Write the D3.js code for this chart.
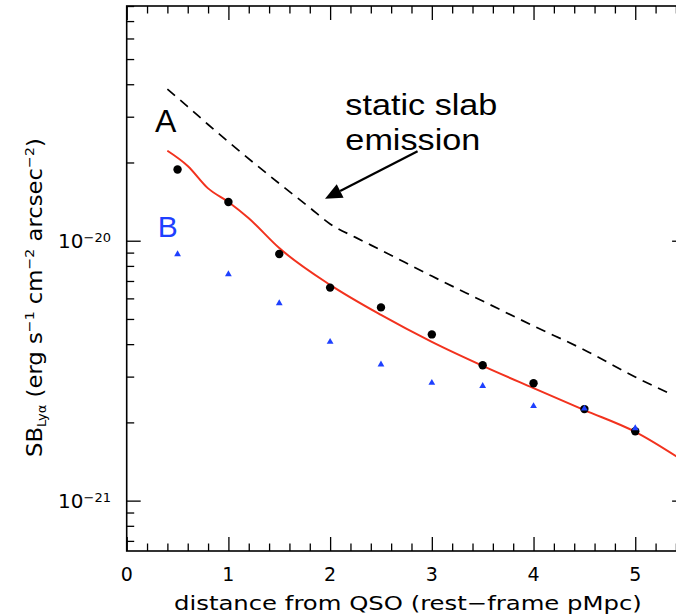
<!DOCTYPE html>
<html><head><meta charset="utf-8">
<script src="https://cdn.jsdelivr.net/npm/d3@7"></script>
<style>body{margin:0;background:#fff}svg{display:block}</style>
</head><body><svg id="c" width="676" height="616"></svg>
<script>
// ---- data ----
const distances = [0.5, 1, 1.5, 2, 2.5, 3, 3.5, 4, 4.5, 5];
const seriesA = [1.88e-20, 1.41e-20, 8.89e-21, 6.6e-21, 5.54e-21, 4.36e-21, 3.32e-21, 2.83e-21, 2.25e-21, 1.85e-21];
const seriesB = [8.87e-21, 7.43e-21, 5.75e-21, 4.08e-21, 3.34e-21, 2.84e-21, 2.76e-21, 2.31e-21, 2.26e-21, 1.90e-21];
const modelX = [0.4, 0.6, 0.8, 1.0, 1.2, 1.5, 2.0, 2.5, 3.0, 3.5, 4.0, 4.5, 5.0, 5.5];
const modelY = [2.22e-20, 1.94e-20, 1.59e-20, 1.41e-20, 1.22e-20, 9.37e-21, 6.76e-21, 5.18e-21, 4.08e-21, 3.30e-21, 2.71e-21, 2.23e-21, 1.84e-21, 1.40e-21];
const slabX = [0.4, 0.6, 0.8, 1.0, 1.5, 1.8, 2.0, 2.25, 2.5, 3.0, 3.5, 4.0, 4.5, 5.0, 5.35];
const slabY = [3.83e-20, 3.28e-20, 2.80e-20, 2.40e-20, 1.66e-20, 1.34e-20, 1.16e-20, 1.03e-20, 9.2e-21, 7.31e-21, 5.86e-21, 4.70e-21, 3.80e-21, 2.99e-21, 2.57e-21];
const xTickValues = [0, 1, 2, 3, 4, 5];
const xTickLabels = ["0", "1", "2", "3", "4", "5"];
const yTickValues = [1e-21, 1e-20];
const yTickBase = ["10", "10"];
const yTickExp = ["−21", "−20"];
const labelA = "A", labelB = "B";
const slabText = ["static slab", "emission"];
const xTitle = "distance from QSO (rest−frame pMpc)";

// ---- layout ----
const svg = d3.select("#c");
const L = 126.7, R = 686.1, T = 6, B = 551;
const x = d3.scaleLinear().domain([0, 5.5]).range([L, R]);
const y = d3.scaleLog().domain([6.4e-22, 8e-20]).range([B, T]);
const RED = "#f2321e", BLUE = "#1e40ff";
const MAJ = 14, MIN = 7.5;

const xMinor = d3.range(0, 5.5001, 0.2).filter(v => Math.abs(v - Math.round(v)) > 1e-6);
const yMinor = [];
[-22, -21, -20].forEach(e => { for (let k = 2; k <= 9; k++) { const v = k * Math.pow(10, e); if (v >= 6.4e-22 && v <= 8e-20) yMinor.push(v); } });

function axisStyle(g) { g.select(".domain").remove(); g.selectAll("line").attr("stroke", "#000").attr("stroke-width", 1.3); g.selectAll("text").remove(); }

svg.append("g").attr("transform", `translate(0,${B})`).call(d3.axisBottom(x).tickValues(xTickValues).tickSize(-MAJ)).call(axisStyle);
svg.append("g").attr("transform", `translate(0,${B})`).call(d3.axisBottom(x).tickValues(xMinor).tickSize(-MIN)).call(axisStyle);
svg.append("g").attr("transform", `translate(0,${T})`).call(d3.axisTop(x).tickValues(xTickValues).tickSize(-MAJ)).call(axisStyle);
svg.append("g").attr("transform", `translate(0,${T})`).call(d3.axisTop(x).tickValues(xMinor).tickSize(-MIN)).call(axisStyle);
svg.append("g").attr("transform", `translate(${L},0)`).call(d3.axisLeft(y).tickValues(yTickValues).tickSize(-MAJ)).call(axisStyle);
svg.append("g").attr("transform", `translate(${L},0)`).call(d3.axisLeft(y).tickValues(yMinor).tickSize(-MIN)).call(axisStyle);
svg.append("g").attr("transform", `translate(${R},0)`).call(d3.axisRight(y).tickValues(yTickValues).tickSize(-MAJ)).call(axisStyle);
svg.append("g").attr("transform", `translate(${R},0)`).call(d3.axisRight(y).tickValues(yMinor).tickSize(-MIN)).call(axisStyle);

svg.append("rect").attr("x", L).attr("y", T).attr("width", R - L).attr("height", B - T)
  .attr("fill", "none").attr("stroke", "#000").attr("stroke-width", 1.6);

svg.append("g").selectAll("text").data(xTickValues).join("text")
  .attr("x", d => x(d)).attr("y", 581).attr("text-anchor", "middle")
  .attr("font-family", "DejaVu Sans").attr("font-size", 19).attr("fill", "#000")
  .text((d, i) => xTickLabels[i]);

const yl = svg.append("g").selectAll("text").data(yTickValues).join("text")
  .attr("x", 111).attr("y", d => y(d) + 7.5).attr("text-anchor", "end")
  .attr("font-family", "DejaVu Sans").attr("fill", "#000");
yl.append("tspan").attr("font-size", 20).text((d, i) => yTickBase[i]);
yl.append("tspan").attr("font-size", 13).attr("dy", -6.5).text((d, i) => yTickExp[i]);

// x title
{
  const g = svg.append("g");
  const t = g.append("text").attr("font-family", "DejaVu Sans").attr("font-size", 20).attr("fill", "#000").text(xTitle);
  const s = 468 / t.node().getBBox().width;
  g.attr("transform", `translate(174,610) scale(${s},1)`);
}

// y title
{
  const g = svg.append("g");
  const t = g.append("text").attr("font-family", "DejaVu Sans").attr("font-size", 21).attr("fill", "#000");
  t.append("tspan").text("SB");
  t.append("tspan").attr("font-size", 12).attr("dy", 4).text("Lyα");
  t.append("tspan").attr("dy", -4).text(" (erg s");
  t.append("tspan").attr("font-size", 13).attr("dy", -8).text("−1");
  t.append("tspan").attr("dy", 8).text(" cm");
  t.append("tspan").attr("font-size", 13).attr("dy", -8).text("−2");
  t.append("tspan").attr("dy", 8).text(" arcsec");
  t.append("tspan").attr("font-size", 13).attr("dy", -8).text("−2");
  t.append("tspan").attr("dy", 8).text(")");
  const bb = t.node().getBBox();
  const s = 319 / bb.width;
  const cx = bb.x + bb.width / 2;
  g.attr("transform", `translate(42,297.5) rotate(-90) scale(${s},1) translate(${-cx},0)`);
}

// lines
const line = d3.line().x(d => x(d[0])).y(d => y(d[1])).curve(d3.curveMonotoneX);
svg.append("clipPath").attr("id", "pc").append("rect").attr("x", L).attr("y", T).attr("width", R - L).attr("height", B - T);
svg.append("path").attr("clip-path", "url(#pc)").datum(slabX.map((v, i) => [v, slabY[i]])).attr("d", line)
  .attr("fill", "none").attr("stroke", "#000").attr("stroke-width", 1.7).attr("stroke-dasharray", "10,7");
svg.append("path").attr("clip-path", "url(#pc)").datum(modelX.map((v, i) => [v, modelY[i]])).attr("d", line)
  .attr("fill", "none").attr("stroke", RED).attr("stroke-width", 2);

// points
svg.append("g").selectAll("circle").data(distances).join("circle")
  .attr("cx", d => x(d)).attr("cy", (d, i) => y(seriesA[i])).attr("r", 4.2).attr("fill", "#000");
svg.append("g").selectAll("path").data(distances).join("path")
  .attr("transform", (d, i) => `translate(${x(d)},${y(seriesB[i])})`)
  .attr("d", d3.symbol(d3.symbolTriangle, 20)).attr("fill", BLUE);

// labels A, B
svg.append("text").attr("x", x(0.278)).attr("y", y(2.62e-20)).attr("font-family", "Liberation Sans").attr("font-size", 32).attr("fill", "#000").text(labelA);
svg.append("text").attr("x", x(0.305)).attr("y", y(1.03e-20)).attr("font-family", "Liberation Sans").attr("font-size", 30).attr("fill", BLUE).text(labelB);

// static slab annotation
const slabPos = [[2.15, 3.04e-20, 152], [2.15, 2.23e-20, 135]];
slabText.forEach((txt, i) => {
  const g = svg.append("g");
  const t = g.append("text").attr("font-family", "Liberation Sans").attr("font-size", 30).attr("fill", "#000").text(txt);
  const s = slabPos[i][2] / t.node().getBBox().width;
  g.attr("transform", `translate(${x(slabPos[i][0])},${y(slabPos[i][1])}) scale(${s},1)`);
});

// arrow
const arrowFrom = [2.86, 2.21e-20], arrowTo = [1.95, 1.45e-20];
{
  const x0 = x(arrowFrom[0]), y0 = y(arrowFrom[1]), x1 = x(arrowTo[0]), y1 = y(arrowTo[1]);
  const ang = Math.atan2(y1 - y0, x1 - x0);
  const hl = 17, hw = 7.5;
  const bx = x1 - hl * Math.cos(ang), by = y1 - hl * Math.sin(ang);
  svg.append("line").attr("x1", x0).attr("y1", y0).attr("x2", bx).attr("y2", by).attr("stroke", "#000").attr("stroke-width", 2.2);
  const px = -Math.sin(ang), py = Math.cos(ang);
  svg.append("path").attr("d", `M${x1},${y1}L${bx + hw * px},${by + hw * py}L${bx - hw * px},${by - hw * py}Z`).attr("fill", "#000");
}
</script></body></html>
